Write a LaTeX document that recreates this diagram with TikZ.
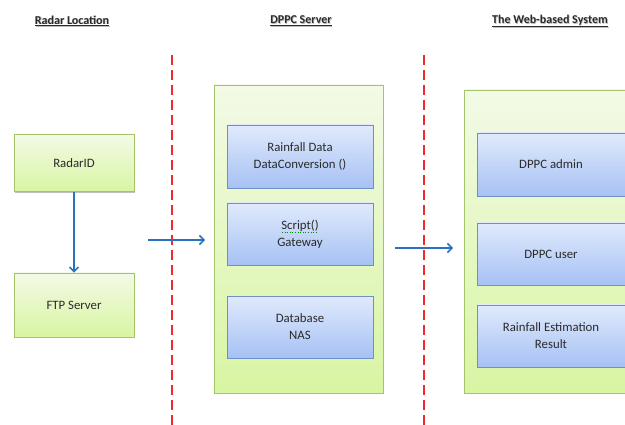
\documentclass[tikz,border=0pt]{standalone}
\usepackage{fontspec}
\setmainfont{Carlito}
\usetikzlibrary{shadows,arrows.meta}

\definecolor{grnedge}{HTML}{A4C46A}
\definecolor{grntop}{HTML}{F3FAE6}
\definecolor{grnbot}{HTML}{D8F5A2}
\definecolor{bluedge}{HTML}{6F8FC8}
\definecolor{blutop}{HTML}{E0EAFC}
\definecolor{blubot}{HTML}{A6C1F4}
\definecolor{flowblue}{HTML}{2A72C0}
\definecolor{sepred}{HTML}{EE2A2E}
\definecolor{txt}{HTML}{2A2A2A}

\begin{document}
\begin{tikzpicture}[x=1pt,y=-1pt,
  font=\fontsize{12.8}{17}\selectfont, text=txt,
  boxshadow/.style={drop shadow={shadow xshift=1.3pt,shadow yshift=-1.3pt,fill=black,opacity=0.25}},
  greenbox/.style={draw=grnedge,line width=0.8pt,top color=grntop,bottom color=grnbot,
    boxshadow,align=center,inner sep=0pt},
  bluebox/.style={draw=bluedge,line width=0.8pt,top color=blutop,bottom color=blubot,
    boxshadow,align=center,inner sep=0pt},
  heading/.style={font=\fontsize{12}{14}\selectfont\bfseries,text=txt},
  headshade/.style={font=\fontsize{12}{14}\selectfont\bfseries,text=black!25},
  flow/.style={draw=flowblue,line width=1.5pt,-{Straight Barb[length=4.5pt,width=9pt,line width=1.5pt]}},
  separator/.style={draw=sepred,line width=2pt,dash pattern=on 10pt off 5pt}
]
\useasboundingbox (0,0) rectangle (625,425);
\fill[white] (0,0) rectangle (625,425);

% column headings, with a faint offset shade behind them
\foreach \x/\t in {72/Radar Location,301/DPPC Server,550/The Web-based System}{
  \node[headshade] at (\x+0.8,21.8) {\underline{\t}};
}
\node[heading] (h1) at (72,21) {\underline{Radar Location}};
\node[heading] (h2) at (301,21) {\underline{DPPC Server}};
\node[heading] (h3) at (550,21) {\underline{The Web-based System}};

% separators between the three zones
\coordinate (s1a) at (172,55); \coordinate (s1b) at (172,426);
\coordinate (s2a) at (424,55); \coordinate (s2b) at (424,426);
\draw[separator] (s1a) -- (s1b);
\draw[separator] (s2a) -- (s2b);

% radar location
\node[greenbox,minimum width=120pt,minimum height=57pt] (radar) at (74,163) {RadarID};
\node[greenbox,minimum width=120pt,minimum height=64pt] (ftp) at (74,305) {FTP Server};
\draw[flow] (radar.south) -- (ftp.north);

% DPPC server
\node[greenbox,minimum width=169pt,minimum height=308pt] (server) at (298.5,239) {};
\node[bluebox,minimum width=146pt,minimum height=63pt] (rain) at (300,156.5)
  {Rainfall Data\\DataConversion ()};
\node[bluebox,minimum width=146pt,minimum height=62pt] (script) at (300,234)
  {Script()\\Gateway};
\node[bluebox,minimum width=146pt,minimum height=62pt] (db) at (300,327)
  {Database\\NAS};
% spell-check underline under Script()
\draw[green!55!black,line width=0.6pt,dotted] (282,232) -- (318,232);

% web-based system
\node[greenbox,minimum width=170pt,minimum height=303pt] (web) at (549,241.5) {};
\node[bluebox,minimum width=148pt,minimum height=63pt] (admin) at (551,164.5) {DPPC admin};
\node[bluebox,minimum width=148pt,minimum height=62pt] (user) at (551,254) {DPPC user};
\node[bluebox,minimum width=148pt,minimum height=62pt] (result) at (551,336)
  {Rainfall Estimation\\Result};

% data flow across the zones
\coordinate (f1a) at (148,240); \coordinate (f1b) at (205,240);
\coordinate (f2a) at (395,248); \coordinate (f2b) at (453,248);
\draw[flow] (f1a) -- (f1b);
\draw[flow] (f2a) -- (f2b);
\end{tikzpicture}
\end{document}
